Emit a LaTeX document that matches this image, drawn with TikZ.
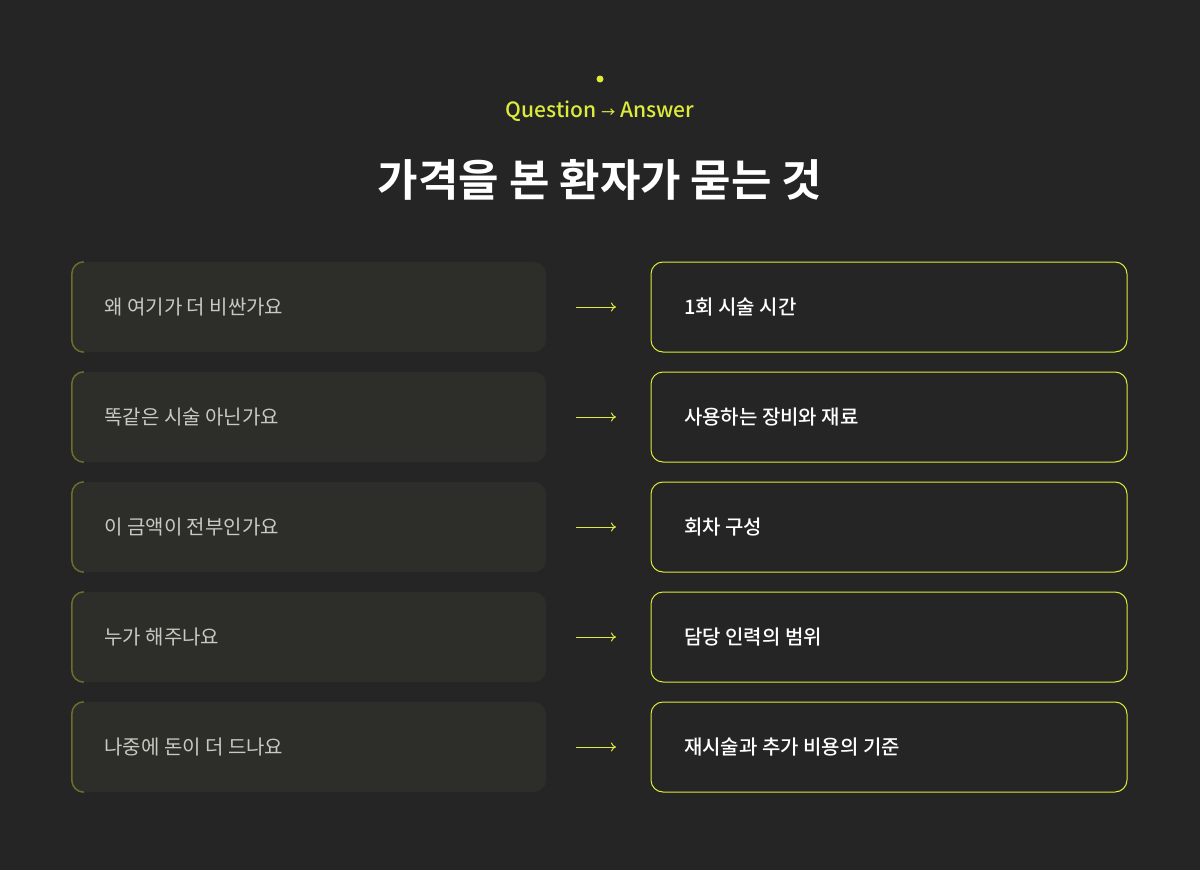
\documentclass[tikz,border=0pt]{standalone}
\usepackage{fontspec}
\setmainfont{Noto Sans CJK KR}
\newfontfamily\titlefont{Noto Sans CJK KR Bold}
\newfontfamily\medfont{Noto Sans CJK KR Medium}
\usetikzlibrary{positioning,arrows.meta}
\definecolor{bg}{HTML}{252525}
\definecolor{qfill}{HTML}{2D2E29}
\definecolor{accent}{HTML}{DDEB3A}
\definecolor{olive}{HTML}{6E6E2C}
\definecolor{qtext}{HTML}{C9C9C1}
\tikzset{
  qbox/.style={fill=qfill, rounded corners=12pt, minimum width=474pt, minimum height=90pt, inner sep=0pt},
  abox/.style={draw=accent, line width=1pt, fill=bg, rounded corners=12pt, minimum width=476pt, minimum height=90pt, inner sep=0pt},
  qlabel/.style={text=qtext, font=\fontsize{20}{24}\selectfont, anchor=west},
  alabel/.style={text=white, font=\medfont\fontsize{20}{24}\selectfont, anchor=west},
  link/.style={accent, line width=1pt, -{To[length=5pt,width=9pt]}}
}
\begin{document}
\begin{tikzpicture}[x=1pt,y=-1pt]
\fill[bg] (0,0) rectangle (1200,870);
\useasboundingbox (0,0) rectangle (1200,870);

\fill[accent] (600,79) circle (3.5pt);
\node[text=accent, font=\medfont\fontsize{21}{25}\selectfont] (sub) at (600,111) {Question {\fontsize{14}{16}\selectfont →} Answer};
\node[text=white, font=\titlefont\fontsize{44}{50}\selectfont] (title) at (600,180) {가격을 본 환자가 묻는 것};

\foreach \i/\q/\a in {0/왜 여기가 더 비싼가요/1회 시술 시간,
                      1/똑같은 시술 아닌가요/사용하는 장비와 재료,
                      2/이 금액이 전부인가요/회차 구성,
                      3/누가 해주나요/담당 인력의 범위,
                      4/나중에 돈이 더 드나요/재시술과 추가 비용의 기준} {
  \pgfmathsetmacro{\yy}{307+110*\i}
  \node[qbox] (q\i) at (309,\yy) {};
  \draw[olive, line width=1.5pt] ([xshift=12pt]q\i.north west) arc[start angle=90, end angle=180, radius=12pt]
    -- ([yshift=12pt]q\i.south west) arc[start angle=180, end angle=270, radius=12pt];
  \node[qlabel] (qt\i) at ([xshift=29pt]q\i.west) {\q};
  \node[abox] (a\i) at (889,\yy) {};
  \node[alabel] (at\i) at ([xshift=30pt]a\i.west) {\a};
  \coordinate (s\i) at (576,\yy);
  \coordinate (e\i) at (616,\yy);
  \draw[link] (s\i) -- (e\i);
}
\end{tikzpicture}
\end{document}
